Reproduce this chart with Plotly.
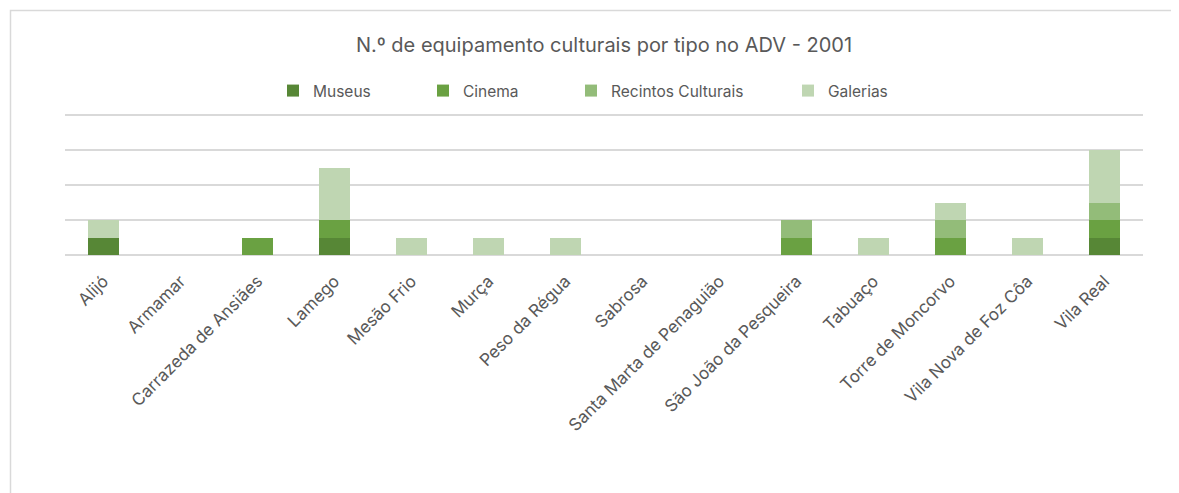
import plotly.graph_objects as go

categories = ["Alijó", "Armamar", "Carrazeda de Ansiães", "Lamego", "Mesão Frio", "Murça",
              "Peso da Régua", "Sabrosa", "Santa Marta de Penaguião", "São João da Pesqueira",
              "Tabuaço", "Torre de Moncorvo", "Vila Nova de Foz Côa", "Vila Real"]
museus = [1, 0, 0, 1, 0, 0, 0, 0, 0, 0, 0, 0, 0, 1]
cinema = [0, 0, 1, 1, 0, 0, 0, 0, 0, 1, 0, 1, 0, 1]
recintos = [0, 0, 0, 0, 0, 0, 0, 0, 0, 1, 0, 1, 0, 1]
galerias = [1, 0, 0, 3, 1, 1, 1, 0, 0, 0, 1, 1, 1, 3]
y_ticks = [0, 2, 4, 6, 8]

series = [
    ("Museus", museus, "#578736", "legend"),
    ("Cinema", cinema, "#6AA142", "legend2"),
    ("Recintos Culturais", recintos, "#93BC79", "legend3"),
    ("Galerias", galerias, "#BFD6B2", "legend4"),
]

FONT = "Inter"
GRAY = "#595959"

fig = go.Figure()
for name, vals, color, leg in series:
    fig.add_trace(go.Bar(name=name, x=categories, y=vals, marker_color=color,
                         marker_line_width=0, legend=leg, showlegend=True))

# page has an 8px body margin; targets below are page pixels
OFF = 8
W, H = 1179, 493
TOP_PAD = 4  # extra px above top gridline so it is drawn
ml = 65 - OFF
mt = 115 - TOP_PAD - OFF
mb = H - (255 - OFF)
mr = W - (1143 - OFF)
pw = W - ml - mr
ph = H - mt - mb
y_top = 8 * ph / (ph - TOP_PAD)

def px_to_paper_x(px):
    return (px - OFF - ml) / pw

def py_to_paper_y(py):
    return (H - mb - (py - OFF)) / ph

legend_x = [290, 440, 588, 805]
legend_common = dict(orientation="h", xanchor="left", yanchor="middle",
                     font=dict(family=FONT, size=15.5, color=GRAY), bgcolor="rgba(0,0,0,0)",
                     itemwidth=30)
legends = {}
for i, lx in enumerate(legend_x):
    key = "legend" if i == 0 else f"legend{i+1}"
    legends[key] = dict(legend_common, x=px_to_paper_x(lx - 17), y=py_to_paper_y(91))

fig.update_layout(
    width=W, height=H,
    showlegend=True,
    barmode="stack",
    bargap=0.6,
    plot_bgcolor="white",
    paper_bgcolor="white",
    margin=dict(l=ml, r=mr, t=mt, b=mb, autoexpand=False),
    title=dict(text="N.º de equipamento culturais por tipo no ADV - 2001",
               x=0.5, xref="paper", y=1 - (45 - OFF) / H, yanchor="middle",
               font=dict(family=FONT, size=20, color=GRAY)),
    font=dict(family=FONT, color=GRAY),
    xaxis=dict(tickangle=-45, tickfont=dict(family=FONT, size=17, color=GRAY),
               ticklabelstandoff=12,
               showgrid=False, showline=False, ticks="", automargin=False),
    yaxis=dict(range=[0, y_top], tickvals=y_ticks, showticklabels=False, showgrid=True,
               gridcolor="#D9D9D9", gridwidth=1.5, zeroline=True, zerolinecolor="#D9D9D9",
               zerolinewidth=1.5, showline=False, ticks="", automargin=False),
    shapes=[dict(type="rect", xref="paper", yref="paper",
                 x0=px_to_paper_x(10.5), x1=px_to_paper_x(W + 20),
                 y0=py_to_paper_y(H + 20), y1=py_to_paper_y(10.5),
                 line=dict(color="#D9D9D9", width=1.5), fillcolor="rgba(0,0,0,0)",
                 layer="below")],
    **legends,
)

fig.write_html("out.html")
